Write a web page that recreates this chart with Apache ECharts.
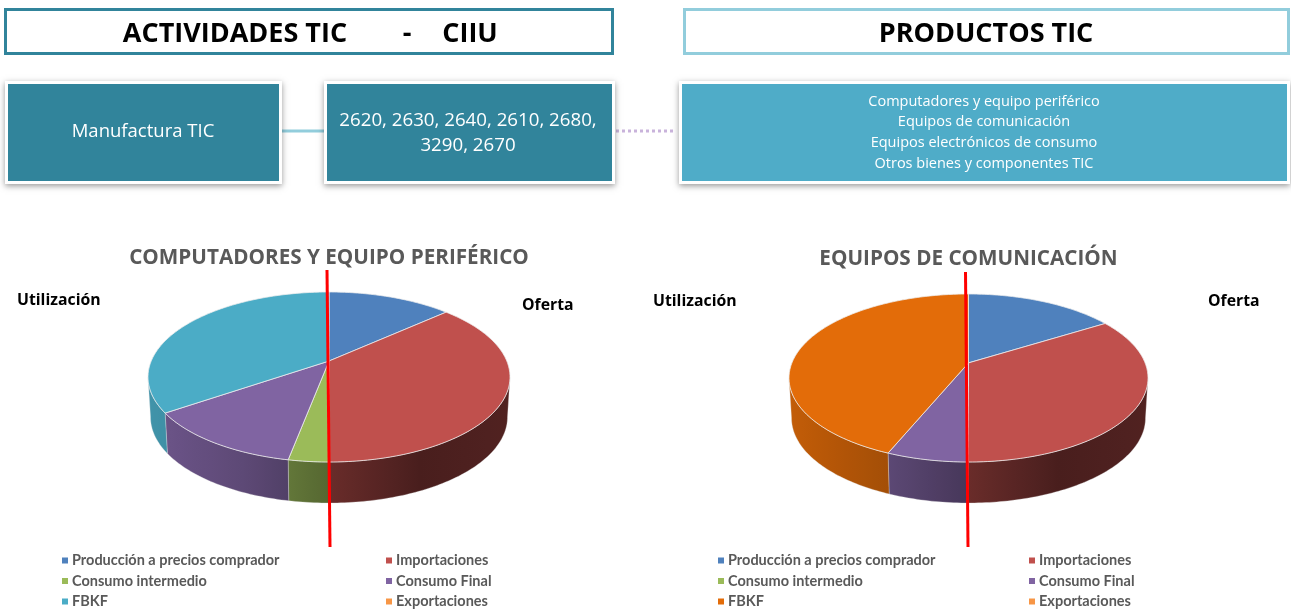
<!DOCTYPE html>
<html>
<head>
<meta charset="utf-8">
<style>html,body{margin:0;padding:0;background:#fff}#c{width:1291px;height:611px}</style>
<script src="https://cdn.jsdelivr.net/npm/echarts@6/dist/echarts.min.js"></script>
</head>
<body>
<div id="c"></div>
<script>
const categories = ['Producción a precios comprador','Importaciones','Consumo intermedio','Consumo Final','FBKF','Exportaciones'];
const computadoresValues = [13.3, 36.7, 3.0, 12.4, 34.6, 0];
const comunicacionValues = [16.1, 33.9, 0, 6.2, 43.8, 0];
const computadoresColors = ['#4F81BD','#C0504D','#9BBB59','#8064A2','#4BACC6','#F79646'];
const comunicacionColors = ['#4F81BD','#C0504D','#9BBB59','#8064A2','#E36C09','#F79646'];
const productLines = ['Computadores y equipo periférico','Equipos de comunicación','Equipos electrónicos de consumo','Otros bienes y componentes TIC'];

const FONT = '"Open Sans"';
const pies = [
  {title:'COMPUTADORES Y EQUIPO PERIFÉRICO', values:computadoresValues, colors:computadoresColors, cx:329, cy:377, rx:181, ry:85, a:-0.188, titleY:248},
  {title:'EQUIPOS DE COMUNICACIÓN', values:comunicacionValues, colors:comunicacionColors, cx:968.5, cy:378, rx:179.5, ry:84, a:-0.18, titleY:249}
];

function toAngle(v){ return echarts.number.linearMap(v,[0,100],[0,Math.PI*2]); }
function shade(hex,f){
  const n=parseInt(hex.slice(1),16);
  const c=[(n>>16)&255,(n>>8)&255,n&255].map(v=>Math.round(v*f));
  return 'rgb('+c.join(',')+')';
}
function shadeAt(x){
  const xs=[-1,-0.45,0,0.5,1], fs=[0.86,0.72,0.55,0.38,0.42];
  for(let i=0;i<4;i++){ if(x<=xs[i+1]) return fs[i]+(fs[i+1]-fs[i])*(x-xs[i])/(xs[i+1]-xs[i]); }
  return fs[4];
}
function rim(p,t){
  const x=Math.sin(t), y=-Math.cos(t), d=1+p.a*y, s=Math.sqrt(1-p.a*p.a);
  return [x*s/d,(y+p.a)/d];
}
function upperPt(p,n){ return [p.cx+p.rx*n[0], p.cy+p.ry*n[1]]; }
function lowerPt(p,n){ return [p.cx+(p.rx-2.5)*n[0], p.cy+40+(p.ry+1)*n[1]]; }

function makeRender(p,color){
  return function(params,api){
    const t0=toAngle(api.value(0)), t1=toAngle(api.value(1));
    if(t1<=t0) return null;
    const children=[];
    const tLim=Math.acos(p.a);
    const wa=Math.max(t0,tLim), wb=Math.min(t1,Math.PI*2-tLim);
    const step=Math.PI/180;
    if(wb>wa){
      const ns=[];
      for(let t=wa;t<wb;t+=step) ns.push(rim(p,t));
      ns.push(rim(p,wb));
      const pts=ns.map(n=>upperPt(p,n)).concat(ns.slice().reverse().map(n=>lowerPt(p,n)));
      const xa=Math.min(...ns.map(n=>n[0])), xb=Math.max(...ns.map(n=>n[0]));
      const stops=[];
      for(let i=0;i<=8;i++) stops.push({offset:i/8,color:shade(color,shadeAt(xa+(xb-xa)*i/8))});
      children.push({type:'polygon',shape:{points:pts},style:{
        fill:new echarts.graphic.LinearGradient(0,0,1,0,stops),
        stroke:'rgba(225,225,225,0.45)',lineWidth:0.7}});
    }
    const pts=[upperPt(p,[0,p.a])];
    for(let t=t0;t<t1;t+=step) pts.push(upperPt(p,rim(p,t)));
    pts.push(upperPt(p,rim(p,t1)));
    children.push({type:'polygon',shape:{points:pts},style:{fill:color,stroke:'rgba(238,238,238,0.85)',lineWidth:0.9}});
    return {type:'group',children};
  };
}

const series=[];
pies.forEach(p=>{
  let acc=0;
  categories.forEach((name,i)=>{
    const start=acc; acc+=p.values[i];
    series.push({type:'custom',name,coordinateSystem:'none',silent:true,animation:false,z:2,
      renderItem:makeRender(p,p.colors[i]),data:[[start,acc]]});
  });
});

function legendCol(left,idx,colors){
  return {orient:'vertical',left,top:553,itemWidth:6,itemHeight:6,itemGap:5.5,padding:0,selectedMode:false,icon:'rect',
    textStyle:{fontFamily:'Lato',fontWeight:'bold',fontSize:14.5,color:'#595959',lineHeight:15,padding:[0,0,0,-1]},
    data:idx.map(i=>({name:categories[i],icon:'rect',itemStyle:{color:colors[i]}}))};
}

const Z=100;
function box(x,y,w,h,fill){
  return [
    {type:'rect',z:Z,shape:{x:x-3,y:y-3,width:w+6,height:h+6},style:{fill:'#fff',shadowBlur:6,shadowColor:'rgba(0,0,0,0.4)',shadowOffsetY:2}},
    {type:'rect',z:Z,shape:{x,y,width:w,height:h},style:{fill}}
  ];
}
function head(x,y,w,h,stroke){
  return {type:'rect',z:Z,shape:{x,y,width:w,height:h},style:{fill:'#fff',stroke,lineWidth:3}};
}
function label(text,x,y,size,opt){
  return {type:'text',z:Z+1,x,y,style:Object.assign({text,fontFamily:FONT,fontSize:size,fill:'#fff',align:'center',verticalAlign:'middle'},opt||{})};
}
function bold(text,x,y){ return label(text,x,y,15.8,{fill:'#000',fontWeight:'bold',align:'left'}); }

const graphicEls=[
  head(5.5,9.5,607,44,'#31849B'),
  head(684.5,9.5,604,44,'#92CDDC'),
  label('ACTIVIDADES TIC',235,34,27,{fill:'#000',fontWeight:'bold'}),
  label('-',407,34,27,{fill:'#000',fontWeight:'bold'}),
  label('CIIU',470,34,27,{fill:'#000',fontWeight:'bold'}),
  label('PRODUCTOS TIC',986,34,27,{fill:'#000',fontWeight:'bold'}),
  {type:'line',z:Z,shape:{x1:280,y1:131,x2:327,y2:131},style:{stroke:'#92CDDC',lineWidth:3}},
  {type:'line',z:Z,shape:{x1:616,y1:131,x2:676,y2:131},style:{stroke:'#C9B3DB',lineWidth:3,lineDash:[3,3]}},
  ...box(8,84,271,97,'#31849B'),
  ...box(327,84,285,97,'#31849B'),
  ...box(682,84,605,97,'#4FACC8'),
  label('Manufactura TIC',143,132,18.5),
  label('2620, 2630, 2640, 2610, 2680,',468,121,18.7),
  label('3290, 2670',468,146,18.7),
  bold('Utilización',17,300),
  bold('Oferta',522,305),
  bold('Utilización',653,301),
  bold('Oferta',1208,301),
  {type:'line',z:Z,shape:{x1:327,y1:270,x2:330,y2:547},style:{stroke:'#FF0000',lineWidth:3}},
  {type:'line',z:Z,shape:{x1:965.5,y1:272,x2:968,y2:547},style:{stroke:'#FF0000',lineWidth:3}}
];
productLines.forEach((t,i)=>graphicEls.push(label(t,984,[101.5,121.5,142.5,163.5][i],14.5)));

const chart=echarts.init(document.getElementById('c'),null,{renderer:'canvas'});
chart.setOption({
  animation:false,
  backgroundColor:'#fff',
  title:pies.map(p=>({text:p.title,left:p.cx,top:p.titleY,textAlign:'center',padding:0,
    textStyle:{fontFamily:FONT,fontWeight:'bold',fontSize:20.7,color:'#595959'}})),
  legend:[
    legendCol(62,[0,2,4],computadoresColors),
    legendCol(386,[1,3,5],computadoresColors),
    legendCol(718,[0,2,4],comunicacionColors),
    legendCol(1029,[1,3,5],comunicacionColors)
  ],
  graphic:{elements:graphicEls},
  series
});
</script>
</body>
</html>
